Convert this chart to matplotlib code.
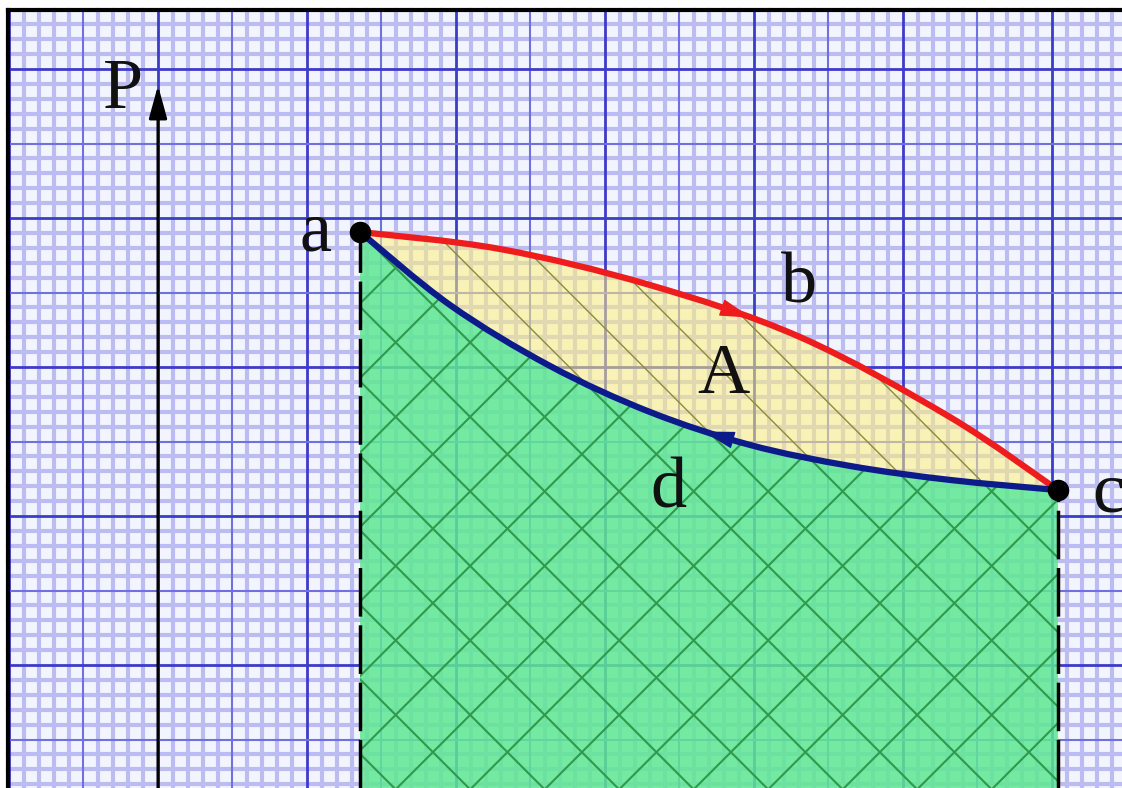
import matplotlib
matplotlib.use("Agg")
import matplotlib.pyplot as plt
import numpy as np
from matplotlib.patches import Rectangle, PathPatch
from matplotlib.path import Path

# P-V diagram on graph paper, 1 unit = one big square
# process a -> b -> c (red, expansion) and c -> d -> a (blue, compression)
red_v = [1.356, 2.295, 3.302, 4.309, 5.315, 6.040]
red_p = [2.906, 2.792, 2.550, 2.201, 1.664, 1.174]
blue_v = [1.356, 1.960, 2.631, 3.302, 3.973, 4.644, 5.315, 6.040]
blue_p = [2.906, 2.416, 2.007, 1.698, 1.477, 1.336, 1.242, 1.174]

point_names = ["a", "c"]
point_v = [1.356, 6.040]
point_p = [2.906, 1.174]

# direction arrows on the curves: tip V and tail V
red_arrow_v = [3.62, 3.98]
blue_arrow_v = [3.95, 3.66]

# label text and where it sits (baseline)
labels = ["P", "a", "b", "A", "d", "c"]
label_v = [-0.235, 1.054, 4.302, 3.792, 3.423, 6.376]
label_p = [3.738, 2.785, 2.430, 1.826, 1.054, 1.027]

# view of the paper
x_lo, x_hi = -1.0604, 6.4698
y_lo, y_hi = -0.8255, 4.4631
frame_left, frame_top = -1.007, 4.396


def smooth_path(vs, ps):
    # cubic bezier segments through the read points (catmull-rom handles)
    pts = np.column_stack([vs, ps])
    verts = [pts[0]]
    codes = [Path.MOVETO]
    for i in range(len(pts) - 1):
        p0 = pts[max(i - 1, 0)]
        p1, p2 = pts[i], pts[i + 1]
        p3 = pts[min(i + 2, len(pts) - 1)]
        verts += [p1 + (p2 - p0) / 6, p2 - (p3 - p1) / 6, p2]
        codes += [Path.CURVE4] * 3
    return verts, codes


def on_curve(path, v):
    poly = path.to_polygons(closed_only=False)[0]
    return v, np.interp(v, poly[:, 0], poly[:, 1])


fig = plt.figure(figsize=(11.22, 7.88), dpi=100)
ax = fig.add_axes([0, 0, 1, 1])
ax.set_xlim(x_lo, x_hi)
ax.set_ylim(y_lo, y_hi)
ax.axis("off")

# graph paper
ax.add_patch(Rectangle((frame_left, y_lo), x_hi - frame_left, frame_top - y_lo,
                       facecolor="#f2f5ff", edgecolor="none", zorder=0))
ticks_v = np.round(np.arange(-1.0, 6.5, 0.1), 2)
ticks_p = np.round(np.arange(-0.8, 4.4, 0.1), 2)
for v in ticks_v:
    if abs(v * 2 - round(v * 2)) > 1e-6:
        ax.plot([v, v], [y_lo, frame_top], color="#bcbcf2", lw=3.0, zorder=1)
for p in ticks_p:
    if abs(p * 2 - round(p * 2)) > 1e-6:
        ax.plot([frame_left, x_hi], [p, p], color="#bcbcf2", lw=3.0, zorder=1)
for v in np.arange(-1.0, 6.5, 0.5):
    major = abs(v - round(v)) < 1e-6
    ax.plot([v, v], [y_lo, frame_top], color="#3c3cc8" if major else "#7070e0",
            lw=2.0 if major else 1.5, zorder=1.5)
for p in np.arange(-0.5, 4.4, 0.5):
    major = abs(p - round(p)) < 1e-6
    ax.plot([frame_left, x_hi], [p, p], color="#3c3cc8" if major else "#7070e0",
            lw=2.0 if major else 1.5, zorder=1.5)

# work areas, bounded by the smoothed curves
rv, rc = smooth_path(red_v, red_p)
bv, bc = smooth_path(blue_v, blue_p)
bv_rev, _ = smooth_path(blue_v[::-1], blue_p[::-1])
green_path = Path(bv + [(blue_v[-1], y_lo - 0.1), (blue_v[0], y_lo - 0.1), bv[0]],
                  bc + [Path.LINETO, Path.LINETO, Path.CLOSEPOLY])
yellow_path = Path(rv + bv_rev[1:] + [rv[0]],
                   rc + bc[1:] + [Path.CLOSEPOLY])
green = PathPatch(green_path, facecolor="#5ee892", alpha=0.85, edgecolor="none", zorder=2)
yellow = PathPatch(yellow_path, facecolor="#fff07a", alpha=0.55, edgecolor="none", zorder=2)
ax.add_patch(green)
ax.add_patch(yellow)

# hatching, one line every half square
span = np.arange(-12, 14, 0.5)
xs = np.array([x_lo, x_hi])
for k in span:
    l1, = ax.plot(xs, -xs + k + 0.26, color="#2f9a4c", lw=1.5, zorder=3)
    l1.set_clip_path(green)
    l2, = ax.plot(xs, xs + k + 0.07, color="#2f9a4c", lw=1.5, zorder=3)
    l2.set_clip_path(green)
    l3, = ax.plot(xs, -xs + k + 0.26, color="#8c8a3c", lw=1.0, zorder=3)
    l3.set_clip_path(yellow)

# curves
red_path = Path(rv, rc)
blue_path = Path(bv, bc)
ax.add_patch(PathPatch(red_path, facecolor="none", edgecolor="#ee1c1c",
                       lw=4.5, capstyle="round", zorder=5))
ax.add_patch(PathPatch(blue_path, facecolor="none", edgecolor="#0c1a8a",
                       lw=4.5, capstyle="round", zorder=5))
for path, av, col in [(red_path, red_arrow_v, "#ee1c1c"), (blue_path, blue_arrow_v, "#0c1a8a")]:
    ax.annotate("", xy=on_curve(path, av[1]), xytext=on_curve(path, av[0]),
                arrowprops=dict(arrowstyle="-|>,head_length=2.0,head_width=0.55",
                                color=col, lw=1, shrinkA=0, shrinkB=0), zorder=6)

# dashed verticals down from a and c
for v, p in zip(point_v, point_p):
    ax.plot([v, v], [y_lo, p], color="black", lw=2.5, dashes=(14, 2.5), zorder=4)

ax.scatter(point_v, point_p, s=210, color="black", zorder=7)

# P axis
ax.annotate("", xy=(0, 3.89), xytext=(0, y_lo),
            arrowprops=dict(arrowstyle="-|>,head_length=2.0,head_width=0.55",
                            color="black", lw=2.2, shrinkA=0, shrinkB=0), zorder=6)

for t, v, p in zip(labels, label_v, label_p):
    ax.text(v, p, t, fontsize=52, family="Liberation Serif", ha="center",
            va="baseline", color="#111111", zorder=8)

# frame
ax.plot([frame_left, x_hi], [frame_top, frame_top], color="black", lw=3, zorder=9)
ax.plot([frame_left, frame_left], [y_lo, frame_top], color="black", lw=3, zorder=9)

fig.savefig("out.png", dpi=100)
